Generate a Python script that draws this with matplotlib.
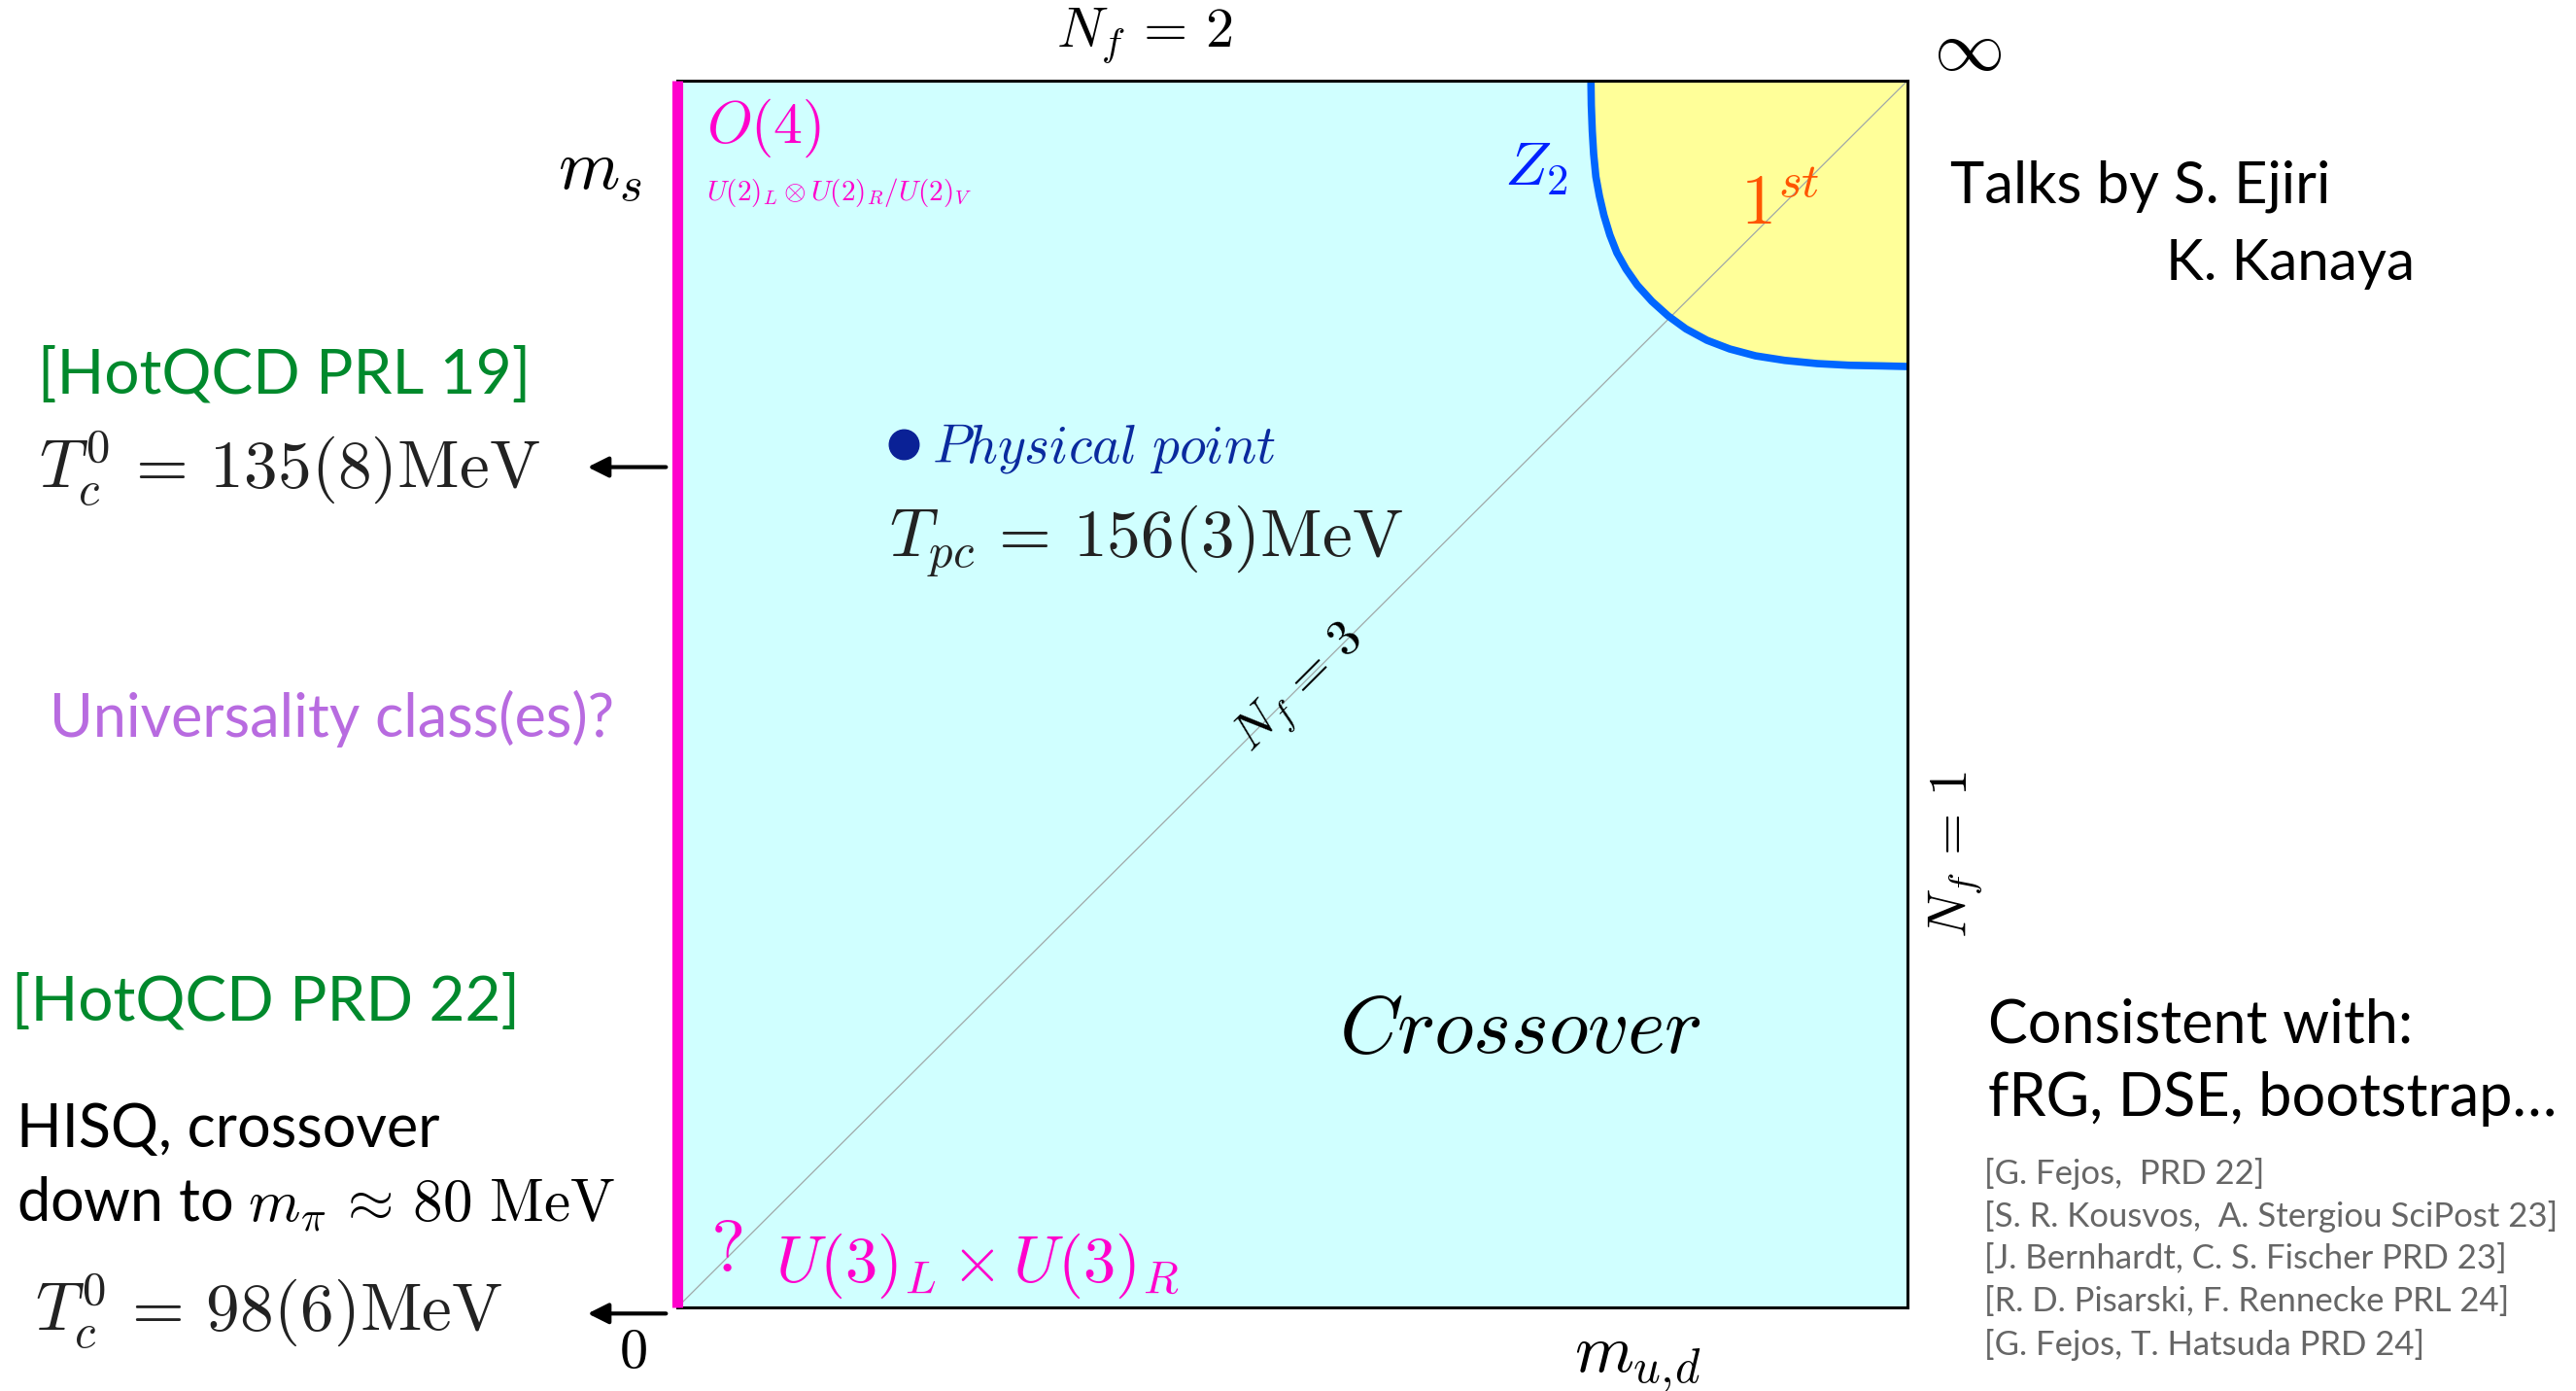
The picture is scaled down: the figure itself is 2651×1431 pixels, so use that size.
import matplotlib
matplotlib.use("Agg")
import matplotlib.pyplot as plt

plt.rcParams['mathtext.fontset'] = 'cm'
plt.rcParams['font.family'] = ['Lato', 'DejaVu Sans']

# Z2 critical line bounding the first-order corner (m_ud, m_s in units of the box)
Z2_X = [0.7427, 0.7430, 0.7438, 0.7449, 0.7467, 0.7496, 0.7533, 0.7581, 0.7638, 0.7712, 0.7804,
        0.7923, 0.8055, 0.8199, 0.8370, 0.8555, 0.8765, 0.9002, 0.9265, 0.9528, 0.9792, 1.0]
Z2_Y = [1.0, 0.9800, 0.9588, 0.9403, 0.9218, 0.9059, 0.8901, 0.8742, 0.8597, 0.8465, 0.8333,
        0.8201, 0.8082, 0.7977, 0.7884, 0.7813, 0.7757, 0.7720, 0.7694, 0.7680, 0.7675, 0.7670]

PHYS_POINT = (0.184, 0.704)
TPC = "156(3)"
TC_PRL19 = "135(8)"
TC_PRD22 = "98(6)"
TC_PRL19_Y = 0.685
TC_PRD22_Y = -0.005

REFERENCES = [
    "[G. Fejos,  PRD 22]",
    "[S. R. Kousvos,  A. Stergiou SciPost 23]",
    "[J. Bernhardt, C. S. Fischer PRD 23]",
    "[R. D. Pisarski, F. Rennecke PRL 24]",
    "[G. Fejos, T. Hatsuda PRD 24]",
]

CYAN = '#d0ffff'
YELLOW = '#ffff99'
MAGENTA = '#ff00cc'
GREEN = '#00892c'

W, H = 2651, 1431
fig = plt.figure(figsize=(W / 100, H / 100), dpi=100)
ax = fig.add_axes([697 / W, 1 - 1345 / H, 1266 / W, 1262 / H])
ax.set_xlim(0, 1)
ax.set_ylim(0, 1)
ax.set_xticks([])
ax.set_yticks([])
ax.set_facecolor(CYAN)
for s in ax.spines.values():
    s.set_linewidth(2.2)
    s.set_zorder(6)

# first-order region and the Z2 line
ax.fill(Z2_X + [1.0], Z2_Y + [1.0], color=YELLOW, zorder=1, lw=0)
ax.plot(Z2_X, Z2_Y, color='#0066ff', lw=5.5, solid_capstyle='butt', solid_joinstyle='round', zorder=3)

# Nf=3 diagonal
ax.plot([0, 1], [0, 1], color='#a0a8a8', lw=0.9, zorder=2)

# chiral limit of the light quarks
ax.plot([0, 0], [0, 1], color=MAGENTA, lw=8, solid_capstyle='butt', zorder=7, clip_on=False)

ax.plot(*PHYS_POINT, 'o', color='#0a2196', ms=22, zorder=5)

def t(x, y, s, size, color='k', ha='left', va='center', **kw):
    ax.text(x, y, s, fontsize=size, color=color, ha=ha, va=va, clip_on=False, **kw)

EQ = r'\,=\,'

# labels around the box
t(0.380, 1.036, r'$N_f' + EQ + r'2$', 42, ha='center')
t(1.049, 1.025, r'$\infty$', 52, ha='center')
t(-0.063, 0.925, r'$m_s$', 52, ha='center')
t(-0.036, -0.036, r'$0$', 42, ha='center')
t(0.781, -0.046, r'$m_{u,\!d}$', 50, ha='center')
t(1.039, 0.369, r'$N_f' + EQ + r'1$', 40, ha='center', rotation=90)

# labels inside the box
t(0.024, 0.961, r'$O(4)$', 43, color=MAGENTA)
t(0.024, 0.909, r'$U(2)_L\otimes U(2)_R/U(2)_V$', 21, color=MAGENTA)
t(0.698, 0.928, r'$Z_2$', 46, color='#0022ff', ha='center')
t(0.896, 0.899, r'$1^{st}$', 52, color='#ff5500', ha='center')
t(0.207, 0.700, r'$Physical\ point$', 40, color='#0a2a9e')
t(0.172, 0.624, r'$T_{pc}' + EQ + TPC + r'\mathrm{MeV}$', 50, color='#222222')
t(0.507, 0.503, r'$N_f' + EQ + r'3$', 38, ha='center', rotation=45)
t(0.685, 0.226, r'$Crossover$', 60, ha='center')
t(0.040, 0.046, r'$?$', 54, color=MAGENTA, ha='center')
t(0.080, 0.034, r'$U(3)_L\times U(3)_R$', 48, color=MAGENTA)

# left column: lattice results
t(-0.520, 0.760, '[HotQCD PRL 19]', 46, color=GREEN)
t(-0.519, 0.684, r'$T_c^0' + EQ + TC_PRL19 + r'\mathrm{MeV}$', 50, color='#222222')
t(-0.510, 0.480, 'Universality class(es)?', 44, color='#b86be0')
t(-0.541, 0.249, '[HotQCD PRD 22]', 46, color=GREEN)
t(-0.537, 0.145, 'HISQ, crossover', 44)
t(-0.537, 0.084, r'down to $m_\pi\,\approx\,80\ \mathrm{MeV}$', 44)
t(-0.522, -0.003, r'$T_c^0' + EQ + TC_PRD22 + r'\mathrm{MeV}$', 50, color='#222222')

for y in (TC_PRL19_Y, TC_PRD22_Y):
    ax.annotate('', xy=(-0.075, y), xytext=(-0.007, y), annotation_clip=False,
                arrowprops=dict(arrowstyle='-|>', color='k', lw=3, mutation_scale=32))

# right column
t(1.035, 0.914, 'Talks by S. Ejiri', 43)
t(1.210, 0.851, 'K. Kanaya', 42)
t(1.0655, 0.230, 'Consistent with:', 44)
t(1.0655, 0.170, 'fRG, DSE, bootstrap…', 44)
for i, ref in enumerate(REFERENCES):
    t(1.0625, 0.109 - 0.0348 * i, ref, 25, color='#666666')

fig.savefig('out.png', dpi=100)
